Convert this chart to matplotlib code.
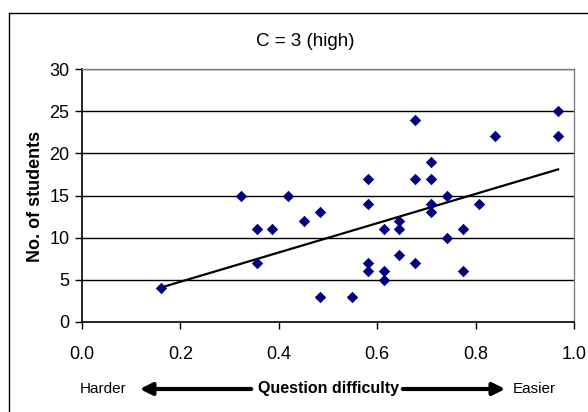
import numpy as np
import matplotlib
matplotlib.use("Agg")
import matplotlib.pyplot as plt
from matplotlib.lines import Line2D
from matplotlib.patches import FancyArrowPatch

# difficulty values are k/31
difficulty = np.array([5, 10, 11, 11, 12, 13, 14, 15, 15, 17,
                       18, 18, 18, 18, 19, 19, 19, 20, 20, 20,
                       21, 21, 21, 22, 22, 22, 22, 23, 23, 24,
                       24, 25, 26, 30, 30]) / 31.0
students = [4, 15, 11, 7, 11, 15, 12, 13, 3, 3,
            17, 14, 7, 6, 11, 6, 5, 12, 11, 8,
            24, 17, 7, 19, 17, 14, 13, 15, 10, 11,
            6, 14, 22, 25, 22]
# trendline end values
trend_x = [5 / 31.0, 30 / 31.0]
trend_y = [4.1, 18.1]

title = "C = 3 (high)"
ylabel = "No. of students"
xlabel = "Question difficulty"

W, H = 588, 412
fig = plt.figure(figsize=(W / 100, H / 100), dpi=100)
fig.patch.set_facecolor("white")

tick_font = ["Liberation Sans Narrow", "Liberation Sans", "DejaVu Sans"]
font = ["Liberation Sans", "DejaVu Sans"]

# outer chart border
fig.add_artist(Line2D([9 / W, 1.0], [1 - 13 / H, 1 - 13 / H], color="black", lw=1))
fig.add_artist(Line2D([9 / W, 9 / W], [0, 1 - 13 / H], color="black", lw=1))

ax = fig.add_axes([82 / W, 1 - 322 / H, 492 / W, 253 / H])
ax.scatter(difficulty, students, marker="D", s=34, color="#000080", zorder=3,
           linewidths=0)
ax.plot(trend_x, trend_y, color="black", lw=1.6, zorder=2)

ax.set_xlim(0, 1.0)
ax.set_ylim(0, 30)
ax.set_xticks(np.arange(0, 1.01, 0.2))
ax.set_xticklabels(["%.1f" % v for v in np.arange(0, 1.01, 0.2)])
ax.set_yticks(range(0, 31, 5))
for yv in range(5, 31, 5):
    ax.axhline(yv, color="black", lw=1, zorder=1)

for side in ["left", "bottom"]:
    ax.spines[side].set_color("black")
    ax.spines[side].set_linewidth(1.2)
for side in ["top", "right"]:
    ax.spines[side].set_color("#808080")
    ax.spines[side].set_linewidth(1)

ax.tick_params(direction="out", length=5, width=1, color="black", pad=4)
for lab in ax.get_xticklabels() + ax.get_yticklabels():
    lab.set_family(tick_font)
    lab.set_fontsize(13)
ax.tick_params(axis="x", pad=12)

fig.text(305 / W, 1 - 42 / H, title, ha="center", va="center",
         fontsize=13.5, family=font)
fig.text(35 / W, 1 - 196 / H, ylabel, ha="center", va="center", rotation=90,
         fontsize=13, fontweight="bold", family=font)

yl = 1 - 389 / H
fig.text(80 / W, yl, "Harder", ha="left", va="center", fontsize=11,
         family=tick_font)
fig.text(328 / W, yl, xlabel, ha="center", va="center", fontsize=11.5,
         fontweight="bold", family=font)
fig.text(513 / W, yl, "Easier", ha="left", va="center", fontsize=11,
         family=tick_font)
style = "-|>,head_length=0.6,head_width=0.3"
fig.add_artist(FancyArrowPatch((254 / W, yl), (137 / W, yl), arrowstyle=style,
               color="black", lw=3, mutation_scale=12, transform=fig.transFigure))
fig.add_artist(FancyArrowPatch((400 / W, yl), (508 / W, yl), arrowstyle=style,
               color="black", lw=3, mutation_scale=12, transform=fig.transFigure))

fig.savefig("out.png", dpi=100)
